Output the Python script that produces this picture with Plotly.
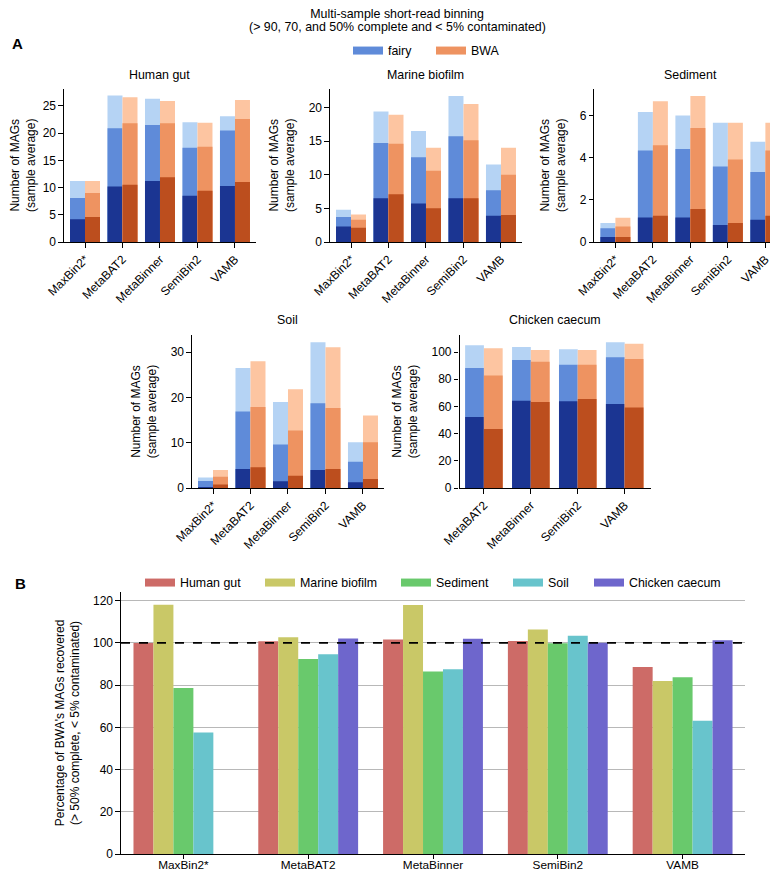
import plotly.graph_objects as go

# ---------------- data ----------------
methods5 = ["MaxBin2*", "MetaBAT2", "MetaBinner", "SemiBin2", "VAMB"]
methods4 = ["MetaBAT2", "MetaBinner", "SemiBin2", "VAMB"]

# cumulative number of MAGs (>50, >70, >90 % complete)
hg_fairy_50 = [11.2, 26.9, 26.3, 22.0, 23.1]
hg_fairy_70 = [8.1, 20.9, 21.5, 17.3, 20.5]
hg_fairy_90 = [4.2, 10.2, 11.2, 8.5, 10.3]
hg_bwa_50 = [11.2, 26.6, 25.9, 21.9, 26.1]
hg_bwa_70 = [9.0, 21.8, 21.8, 17.5, 22.6]
hg_bwa_90 = [4.6, 10.5, 11.9, 9.4, 11.0]

mb_fairy_50 = [4.8, 19.4, 16.5, 21.7, 11.5]
mb_fairy_70 = [3.7, 14.7, 12.6, 15.7, 7.7]
mb_fairy_90 = [2.3, 6.5, 5.7, 6.5, 3.9]
mb_bwa_50 = [4.1, 18.9, 14.0, 20.5, 14.0]
mb_bwa_70 = [3.3, 14.6, 10.6, 15.1, 10.0]
mb_bwa_90 = [2.1, 7.1, 5.0, 6.5, 4.0]

sed_fairy_50 = [0.9, 6.17, 6.0, 5.66, 4.75]
sed_fairy_70 = [0.65, 4.34, 4.41, 3.58, 3.32]
sed_fairy_90 = [0.24, 1.16, 1.16, 0.81, 1.06]
sed_bwa_50 = [1.15, 6.68, 6.93, 5.66, 5.66]
sed_bwa_70 = [0.73, 4.59, 5.41, 3.91, 4.34]
sed_bwa_90 = [0.24, 1.25, 1.57, 0.9, 1.25]

soil_fairy_50 = [2.3, 26.5, 19.0, 32.2, 10.1]
soil_fairy_70 = [1.55, 16.9, 9.6, 18.75, 5.8]
soil_fairy_90 = [0.1, 4.2, 1.5, 4.0, 1.25]
soil_bwa_50 = [4.0, 28.0, 21.8, 31.1, 16.0]
soil_bwa_70 = [2.5, 17.9, 12.7, 17.65, 10.1]
soil_bwa_90 = [0.8, 4.6, 2.7, 4.2, 2.0]

cc_fairy_50 = [104.9, 103.7, 102.0, 107.1]
cc_fairy_70 = [88.2, 94.1, 90.7, 96.1]
cc_fairy_90 = [52.2, 64.2, 63.7, 61.8]
cc_bwa_50 = [102.7, 101.5, 101.5, 106.1]
cc_bwa_70 = [82.8, 92.9, 90.7, 94.9]
cc_bwa_90 = [43.4, 63.2, 65.4, 59.1]

# panel B: percentage of BWA's MAGs recovered
env_names = ["Human gut", "Marine biofilm", "Sediment", "Soil", "Chicken caecum"]
pct_human_gut = [100.0, 100.8, 101.6, 100.9, 88.6]
pct_marine_biofilm = [118.1, 102.7, 117.9, 106.3, 82.0]
pct_sediment = [78.6, 92.4, 86.5, 99.8, 83.7]
pct_soil = [57.5, 94.6, 87.5, 103.4, 63.1]
pct_chicken_caecum = [None, 102.1, 102.0, 100.1, 101.2]

# ---------------- styling ----------------
W, H = 778, 871
FONT = "Liberation Sans, Arial, sans-serif"
FAIRY = ["#b5d3f4", "#5f8bd9", "#1b3592"]   # >50, >70, >90
BWA = ["#fdc5a1", "#ee9361", "#bc4e1e"]
ENV_COLORS = ["#cd6b67", "#c9c867", "#69c96c", "#68c4cc", "#6e66cc"]


def fx(p):
    return p / W


def fy(p):
    return 1 - p / H


fig = go.Figure()

panels = [
    dict(name="Human gut", cats=methods5,
         fairy=[hg_fairy_50, hg_fairy_70, hg_fairy_90],
         bwa=[hg_bwa_50, hg_bwa_70, hg_bwa_90],
         xd=(56, 247.6), yd=(80.5, 234), xr=[-0.56, 4.55], yr=[0, 28.2], dt=5),
    dict(name="Marine biofilm", cats=methods5,
         fairy=[mb_fairy_50, mb_fairy_70, mb_fairy_90],
         bwa=[mb_bwa_50, mb_bwa_70, mb_bwa_90],
         xd=(322, 513.6), yd=(80.5, 234), xr=[-0.56, 4.55], yr=[0, 22.8], dt=5),
    dict(name="Sediment", cats=methods5,
         fairy=[sed_fairy_50, sed_fairy_70, sed_fairy_90],
         bwa=[sed_bwa_50, sed_bwa_70, sed_bwa_90],
         xd=(586.4, 778), yd=(80.5, 234), xr=[-0.56, 4.55], yr=[0, 7.28], dt=2),
    dict(name="Soil", cats=methods5,
         fairy=[soil_fairy_50, soil_fairy_70, soil_fairy_90],
         bwa=[soil_bwa_50, soil_bwa_70, soil_bwa_90],
         xd=(184, 375.6), yd=(327, 480), xr=[-0.56, 4.55], yr=[0, 33.8], dt=10),
    dict(name="Chicken caecum", cats=methods4,
         fairy=[cc_fairy_50, cc_fairy_70, cc_fairy_90],
         bwa=[cc_bwa_50, cc_bwa_70, cc_bwa_90],
         xd=(451.5, 642.5), yd=(327, 480), xr=[-0.52, 3.55], yr=[0, 112.5], dt=20),
]

axis_common = dict(showline=True, linecolor="black", linewidth=1.2,
                   ticks="outside", ticklen=4.5, tickwidth=1.2, tickcolor="black",
                   showgrid=False, zeroline=False, automargin=False,
                   tickfont=dict(family=FONT, size=12, color="black"))

layout = {}
annotations = []
for i, p in enumerate(panels):
    n = i + 1
    xa = "x" if n == 1 else f"x{n}"
    ya = "y" if n == 1 else f"y{n}"
    for tool, cols, vals in (("fairy", FAIRY, p["fairy"]), ("BWA", BWA, p["bwa"])):
        for col, v in zip(cols, vals):
            fig.add_trace(go.Bar(x=p["cats"], y=v, xaxis=xa, yaxis=ya,
                                 offsetgroup=tool, marker=dict(color=col, line=dict(width=0)),
                                 showlegend=False, name=tool))
    layout[f"xaxis{n}" if n > 1 else "xaxis"] = dict(
        axis_common, domain=[fx(p["xd"][0]), fx(p["xd"][1])], anchor=ya,
        type="category", range=p["xr"], tickangle=-45)
    layout[f"yaxis{n}" if n > 1 else "yaxis"] = dict(
        axis_common, domain=[fy(p["yd"][1]), fy(p["yd"][0])], anchor=xa,
        range=p["yr"], dtick=p["dt"], tick0=0,
        title=dict(text="Number of MAGs<br>(sample average)", standoff=11,
                   font=dict(family=FONT, size=12, color="black")))
    ty = 67 if p["yd"][0] < 200 else 312
    annotations.append(dict(text=p["name"], xref=f"{xa} domain", x=0.5, yref="paper", y=fy(ty),
                            xanchor="center", yanchor="middle", showarrow=False,
                            font=dict(family=FONT, size=12.4, color="black")))

# panel B
pct_series = [pct_human_gut, pct_marine_biofilm, pct_sediment, pct_soil, pct_chicken_caecum]
for k, (nm, vals, col) in enumerate(zip(env_names, pct_series, ENV_COLORS)):
    fig.add_trace(go.Bar(x=methods5, y=vals, xaxis="x6", yaxis="y6", name=nm,
                         marker=dict(color=col, line=dict(width=0)), showlegend=False))

layout["xaxis6"] = dict(axis_common, domain=[fx(113), fx(737)], anchor="y6",
                        type="category", range=[-0.5, 4.5], tickangle=0,
                        ticklen=4, ticklabelstandoff=-4,
                        tickfont=dict(family=FONT, size=11.8, color="black"))
layout["yaxis6"] = dict(axis_common, domain=[fy(846), fy(584)], anchor="x6",
                        range=[0, 124.1], dtick=20, tick0=0, showgrid=True,
                        gridcolor="#b8b8b8", gridwidth=1.2,
                        title=dict(text="Percentage of BWA's MAGs recovered<br>(> 50% complete, < 5% contaminated)",
                                   standoff=10, font=dict(family=FONT, size=12, color="black")))

# legends (legend-only traces)
legend_items = [
    ("fairy", FAIRY[1], 345, 43),
    ("BWA", BWA[1], 428, 43),
] + [(nm, col, sx, 575) for nm, col, sx in zip(env_names, ENV_COLORS, [137, 257, 393, 505, 586])]

for j, (nm, col, sx, sy) in enumerate(legend_items):
    lg = "legend" if j == 0 else f"legend{j + 1}"
    fig.add_trace(go.Scatter(x=[None], y=[None], mode="lines", name=nm,
                             line=dict(color=col, width=8), legend=lg, showlegend=True,
                             xaxis="x6", yaxis="y6"))
    layout[lg] = dict(x=fx(sx - 5), xanchor="left", y=fy(sy), yanchor="middle",
                      bgcolor="rgba(0,0,0,0)", borderwidth=0,
                      font=dict(family=FONT, size=12.4, color="black"),
                      itemclick=False, itemdoubleclick=False)

annotations += [
    dict(text="(> 90, 70, and 50% complete and < 5% contaminated)", xref="paper", yref="paper",
         x=0.5, y=fy(19), xanchor="center", yanchor="middle", showarrow=False,
         font=dict(family=FONT, size=12.4, color="black")),
    dict(text="<b>A</b>", xref="paper", yref="paper", x=fx(9), y=fy(35),
         xanchor="center", yanchor="middle", showarrow=False,
         font=dict(family=FONT, size=15, color="black")),
    dict(text="<b>B</b>", xref="paper", yref="paper", x=fx(13), y=fy(575),
         xanchor="center", yanchor="middle", showarrow=False,
         font=dict(family=FONT, size=15, color="black")),
]

fig.update_layout(
    width=W, height=H, margin=dict(l=0, r=0, t=0, b=0, autoexpand=False),
    paper_bgcolor="white", plot_bgcolor="white",
    barmode="group", bargap=0.2, bargroupgap=0,
    title=dict(text="Multi-sample short-read binning", x=0.5, xanchor="center",
               y=fy(6), yanchor="middle", font=dict(family=FONT, size=12.4, color="black")),
    annotations=annotations,
    shapes=[dict(type="line", xref="x6 domain", x0=0, x1=1, yref="y6", y0=100, y1=100,
                 line=dict(color="black", width=1.6, dash="dash"), layer="above")],
    font=dict(family=FONT, color="black"),
    **layout,
)

fig.write_html("out.html")
